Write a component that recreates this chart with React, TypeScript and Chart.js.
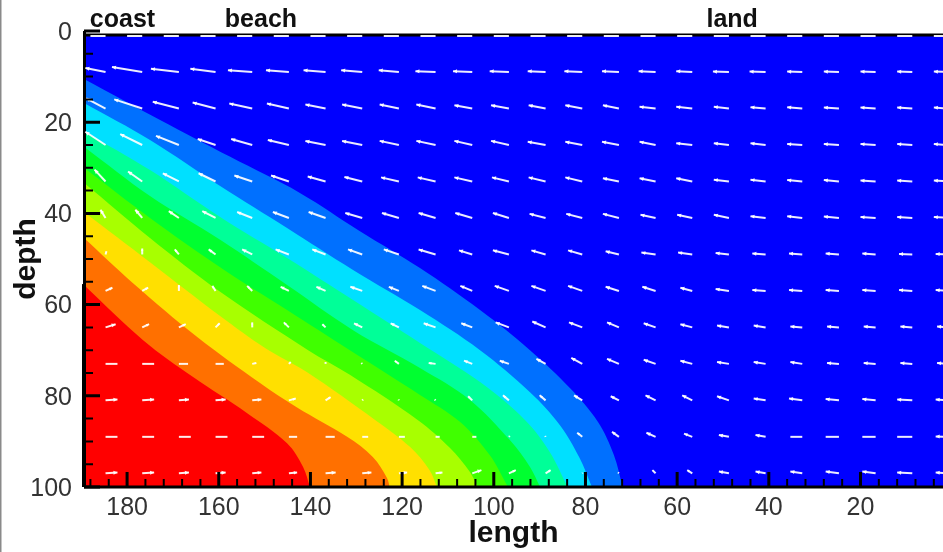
import React, { useEffect, useRef } from "react";
import { Chart, registerables } from "chart.js";

Chart.register(...registerables);

// Contour boundaries: length and depth values.
const levelBlueX = [189.4, 2];
const levelBlueY = [1, 1];
const level1X = [189.4, 172.8, 157.5, 142.3, 129.2, 116.1, 103.0, 92.1, 83.4, 77.3, 73.8, 71.9];
const level1Y = [10.5, 19.5, 27.6, 35.5, 43.9, 52.0, 61.2, 70.0, 78.3, 85.7, 93.0, 100];
const level2X = [189.4, 175.0, 159.7, 145.1, 130.7, 116.1, 103.0, 92.1, 85.6, 81.3, 78.6];
const level2Y = [15.8, 23.9, 34.0, 43.2, 52.4, 61.2, 70.0, 79.2, 86.4, 93.6, 100];
const level3X = [189.4, 175.0, 159.7, 145.1, 130.7, 116.1, 103.0, 93.2, 87.8, 83.9];
const level3Y = [22.1, 30.5, 40.8, 49.8, 59.0, 68.4, 77.0, 85.3, 92.3, 100];
const level4X = [189.4, 175.0, 159.7, 145.1, 130.7, 116.1, 105.2, 96.5, 92.1, 89.9];
const level4Y = [25.4, 36.2, 45.8, 55.7, 65.6, 73.9, 80.9, 89.7, 95.6, 100];
const level5X = [189.4, 175.0, 159.7, 145.1, 131.4, 116.1, 107.4, 100.9, 96.9];
const level5Y = [30.0, 41.0, 51.8, 61.2, 70.0, 79.8, 85.7, 93.0, 100];
const level6X = [189.4, 175.0, 159.7, 140.5, 131.4, 116.6, 109.6, 105.2, 103.5];
const level6Y = [33.3, 45.4, 57.2, 70.0, 75.4, 85.3, 91.4, 96.7, 100];
const level7X = [189.4, 175.0, 159.7, 149.9, 140.8, 125.9, 118.3, 114.0, 112.4];
const level7Y = [39.7, 50.7, 62.5, 69.5, 74.8, 85.3, 91.2, 96.3, 100];
const level8X = [189.4, 178.7, 164.7, 151.0, 143.0, 132.0, 126.4, 123.3, 122.7];
const level8Y = [45.4, 55.3, 67.1, 77.2, 82.5, 89.0, 93.4, 98.0, 100];
const level9X = [189.4, 176.5, 165.6, 153.8, 145.1, 141.6, 140.1];
const level9Y = [55.7, 67.8, 75.9, 83.8, 90.4, 95.6, 100];

const bandColors = ["#ff0000", "#ff7000", "#ffe000", "#a8ff00", "#40ff00", "#00ff30", "#00ff98", "#00e0ff", "#0070ff", "#0000ff"];
const bandXs = [level9X, level8X, level7X, level6X, level5X, level4X, level3X, level2X, level1X, levelBlueX];
const bandYs = [level9Y, level8Y, level7Y, level6Y, level5Y, level4Y, level3Y, level2Y, level1Y, levelBlueY];

// Velocity field: grid positions and components, in axis units.
const gridX = [184.7, 176.7, 168.7, 160.7, 152.7, 144.7, 136.7, 128.7, 120.7, 112.7, 104.7, 96.7, 88.7, 80.7, 72.7, 64.7, 56.7, 48.7, 40.7, 32.7, 24.7, 16.7, 8.7, 0.7];
const gridY = [1.1, 9, 17, 25, 33, 41, 49, 57, 65, 73, 81, 89, 97];

const u0 = [3.3, 3.3, 3.3, 3.3, 3.3, 3.3, 3.3, 3.3, 3.3, 3.3, 3.3, 3.3, 3.3, 3.3, 3.3, 3.3, 3.3, 3.3, 3.3, 3.3, 3.3, 3.3, 3.3, 3.3];
const v0 = [0, 0, 0, 0, 0, 0, 0, 0, 0, 0, 0, 0, 0, 0, 0, 0, 0, 0, 0, 0, 0, 0, 0, 0];
const u1 = [4.4, 6.6, 6.1, 5.5, 5.3, 5.0, 4.8, 4.6, 4.4, 4.4, 4.2, 4.2, 3.9, 3.9, 3.7, 3.7, 3.5, 3.5, 3.5, 3.3, 3.3, 3.3, 3.3, 3.3];
const v1 = [-0.9, -1.1, -0.7, -0.7, -0.4, -0.4, -0.4, -0.4, -0.4, -0.2, -0.2, -0.2, -0.2, -0.2, -0.2, -0.2, -0.2, -0.1, -0.1, -0.1, -0.1, -0.1, -0.1, -0.1];
const u2 = [4.2, 6.1, 5.7, 5.0, 5.0, 4.8, 4.4, 4.4, 4.2, 4.2, 3.9, 3.9, 3.7, 3.7, 3.5, 3.5, 3.5, 3.3, 3.3, 3.3, 3.3, 3.3, 3.3, 3.3];
const v2 = [-2.2, -2.0, -1.5, -1.3, -1.1, -1.1, -0.9, -0.9, -0.9, -0.9, -0.7, -0.7, -0.7, -0.7, -0.7, -0.4, -0.4, -0.4, -0.3, -0.3, -0.2, -0.2, -0.2, -0.2];
const u3 = [4.4, 4.8, 5.0, 3.9, 4.6, 4.6, 4.4, 4.4, 4.2, 4.2, 3.9, 3.9, 3.9, 3.7, 3.7, 3.5, 3.5, 3.3, 3.3, 3.3, 3.3, 3.3, 3.3, 3.3];
const v3 = [-2.9, -2.4, -2.0, -1.3, -1.3, -1.1, -0.9, -0.9, -0.9, -0.9, -0.9, -0.9, -0.7, -0.7, -0.7, -0.7, -0.4, -0.4, -0.4, -0.2, -0.2, -0.2, -0.2, -0.2];
const u4 = [2.4, 3.1, 3.5, 3.7, 3.9, 3.9, 3.9, 3.9, 3.9, 3.9, 3.9, 3.7, 3.7, 3.7, 3.5, 3.5, 3.5, 3.3, 3.3, 3.3, 3.3, 3.3, 3.3, 3.3];
const v4 = [-2.6, -2.2, -1.8, -1.8, -1.3, -1.3, -1.1, -1.0, -0.9, -0.9, -0.9, -0.9, -0.9, -0.9, -0.7, -0.7, -0.7, -0.4, -0.4, -0.3, -0.3, -0.2, -0.2, -0.2];
const u5 = [1.1, 1.5, 2.2, 2.9, 3.3, 3.5, 3.7, 3.7, 3.7, 3.7, 3.7, 3.5, 3.5, 3.5, 3.5, 3.3, 3.3, 3.3, 3.3, 3.3, 3.3, 3.3, 3.3, 3.3];
const v5 = [-1.8, -1.8, -1.5, -1.5, -1.3, -1.3, -1.3, -1.1, -1.1, -1.1, -1.1, -1.1, -0.9, -0.9, -0.9, -0.7, -0.7, -0.7, -0.4, -0.4, -0.3, -0.2, -0.2, -0.2];
const u6 = [-0.2, 0, 0.9, 1.5, 2.2, 2.9, 2.9, 3.1, 3.3, 3.7, 2.9, 3.5, 3.1, 3.1, 2.9, 3.1, 3.1, 2.9, 2.9, 2.9, 2.9, 2.9, 2.9, 2.9];
const v6 = [-0.7, -1.3, -1.1, -1.1, -1.1, -1.1, -1.1, -1.1, -1.1, -1.1, -0.9, -0.9, -0.9, -0.9, -0.7, -0.4, -0.4, -0.3, -0.2, -0.2, -0.2, -0.2, -0.1, -0.1];
const u7 = [-1.5, -1.3, 0, 0.7, 1.1, 1.8, 2.0, 2.6, 2.2, 2.9, 2.6, 3.1, 3.1, 3.1, 2.9, 2.9, 2.6, 2.9, 2.9, 2.9, 2.9, 2.9, 2.9, 2.9];
const v7 = [-0.7, -0.7, -1.3, -1.1, -1.1, -0.9, -0.9, -0.9, -0.9, -1.1, -1.1, -1.1, -1.1, -1.1, -0.9, -0.9, -0.7, -0.4, -0.2, -0.2, -0.2, -0.2, -0.2, -0.2];
const u8 = [-2.2, -1.5, -1.5, -0.9, 0, 1.1, 0.7, 1.8, 1.8, 2.6, 2.4, 2.9, 2.9, 2.9, 2.6, 2.6, 2.6, 2.6, 2.6, 2.6, 2.6, 2.6, 2.6, 2.6];
const v8 = [-0.7, -0.7, -0.7, -0.9, -1.1, -1.1, -0.7, -0.9, -0.9, -0.9, -0.9, -1.1, -1.3, -1.1, -1.1, -0.9, -0.7, -0.4, -0.4, -0.2, -0.2, -0.2, -0.2, -0.2];
const u9 = [-2.6, -2.6, -2.0, -1.8, -0.9, -0.4, 0, 0.2, 0.9, 1.5, 1.8, 2.0, 2.0, 2.4, 2.6, 2.6, 2.6, 2.6, 2.6, 2.6, 2.6, 2.6, 2.6, 2.6];
const v9 = [0, 0, 0, 0, -0.2, -0.4, -0.4, -0.2, -0.7, -0.2, -0.7, -0.7, -1.1, -1.3, -1.1, -0.9, -0.7, -0.4, -0.4, -0.4, -0.2, -0.2, -0.2, -0.2];
const u10 = [-2.6, -2.6, -2.2, -2.2, -2.0, -1.5, -1.1, -0.2, 0.1, 0.2, 0.9, 1.3, 1.3, 1.8, 1.8, 2.2, 2.2, 2.6, 2.6, 2.9, 2.9, 2.9, 3.3, 2.9];
const v10 = [-0.2, -0.2, -0.2, -0.2, -0.2, -0.4, -0.7, -0.2, -0.2, -0.2, -0.9, -1.1, -1.1, -1.1, -0.9, -1.1, -1.1, -0.9, -0.4, -0.4, -0.3, -0.3, -0.2, -0.2];
const u11 = [-2.6, -2.6, -2.6, -2.6, -2.6, -1.8, -2.0, -1.3, -1.3, -0.9, -0.9, -0.2, 0.1, 1.1, 1.5, 2.0, 1.8, 2.2, 2.2, 2.6, 2.9, 2.9, 3.3, 2.9];
const v11 = [0, 0, 0, 0, 0, 0, 0, 0, 0, 0, 0, -0.2, -0.2, -0.9, -1.1, -0.9, -0.7, -0.4, -0.4, 0, 0, 0, 0, -0.1];
const u12 = [-2.6, -2.6, -2.2, -2.2, -2.0, -1.8, -2.2, -2.0, -1.8, -1.5, -2.0, -1.5, -1.1, -0.1, 0.2, 0.7, 1.1, 2.2, 2.2, 2.6, 2.9, 2.9, 3.3, 2.9];
const v12 = [-0.2, -0.2, -0.2, -0.2, -0.2, -0.2, -0.2, -0.2, -0.2, -0.2, -0.7, -0.7, -0.7, -0.1, -0.2, -0.7, -0.7, -0.4, -0.4, -0.4, -0.4, -0.4, -0.2, -0.2];
const fieldU = [u0, u1, u2, u3, u4, u5, u6, u7, u8, u9, u10, u11, u12];
const fieldV = [v0, v1, v2, v3, v4, v5, v6, v7, v8, v9, v10, v11, v12];

// Axes
const xMajorTicks = [180, 160, 140, 120, 100, 80, 60, 40, 20];
const xMinorTicks = [188, 184, 176, 172, 168, 164, 156, 152, 148, 144, 136, 132, 128, 124, 116, 112, 108, 104, 96, 92, 88, 84, 76, 72, 68, 64, 56, 52, 48, 44, 36, 32, 28, 24, 16, 12, 8, 4];
const yMajorTicks = [100, 80, 60, 40, 20, 0];
const yMinorTicks = [5, 10, 15, 25, 30, 35, 45, 50, 55, 65, 70, 75, 85, 90, 95];
const regionNames = ["coast", "beach", "land"];
const regionX = [181.0, 150.8, 48.0];

const SANS = "'Liberation Sans', Arial, sans-serif";

const fieldPlugin = {
  id: "field",
  beforeDraw(chart: any) {
    const { ctx } = chart;
    ctx.save();
    ctx.fillStyle = "#8a8a8a";
    ctx.fillRect(0, 0, 1.5, chart.height);
    ctx.restore();
  },
  afterDatasetsDraw(chart: any) {
    const { ctx, chartArea } = chart;
    const xs = chart.scales.x;
    const ys = chart.scales.y;
    ctx.save();

    // frame
    ctx.strokeStyle = "#000";
    ctx.lineWidth = 3;
    ctx.beginPath();
    ctx.moveTo(chartArea.left, chartArea.bottom);
    ctx.lineTo(chartArea.right, chartArea.bottom);
    ctx.moveTo(chartArea.left + 0.5, chartArea.bottom);
    ctx.lineTo(chartArea.left + 0.5, chartArea.top);
    ctx.moveTo(chartArea.left, 35);
    ctx.lineTo(chartArea.right, 35);
    ctx.stroke();
    ctx.lineWidth = 4;
    ctx.beginPath();
    ctx.moveTo(chartArea.left, chartArea.bottom);
    ctx.lineTo(chartArea.left, ys.getPixelForValue(55.5));
    ctx.stroke();

    // vectors
    ctx.strokeStyle = "rgba(255,255,255,0.92)";
    ctx.fillStyle = "rgba(255,255,255,0.92)";
    ctx.lineWidth = 2;
    gridY.forEach((gy, r) => {
      gridX.forEach((gx, c) => {
        const u = fieldU[r][c];
        const v = fieldV[r][c];
        const x0 = xs.getPixelForValue(gx);
        const y0 = ys.getPixelForValue(gy);
        const x1 = xs.getPixelForValue(gx + u);
        const y1 = ys.getPixelForValue(gy + v);
        const len = Math.hypot(x1 - x0, y1 - y0);
        if (len < 0.5) return;
        ctx.beginPath();
        ctx.moveTo(x0, y0);
        ctx.lineTo(x1, y1);
        ctx.stroke();
        if (v === 0) return; // level vectors read as plain dashes in the reference
        const ux = (x1 - x0) / len;
        const uy = (y1 - y0) / len;
        const h = Math.min(4, len * 0.4);
        const w = Math.min(2, len * 0.2);
        ctx.beginPath();
        ctx.moveTo(x1, y1);
        ctx.lineTo(x1 - ux * h - uy * w, y1 - uy * h + ux * w);
        ctx.lineTo(x1 - ux * h + uy * w, y1 - uy * h - ux * w);
        ctx.closePath();
        ctx.fill();
      });
    });

    // inner ticks
    ctx.strokeStyle = "#000";
    ctx.lineWidth = 3;
    ctx.beginPath();
    xMajorTicks.forEach((v) => {
      const p = xs.getPixelForValue(v);
      ctx.moveTo(p, chartArea.bottom);
      ctx.lineTo(p, chartArea.bottom - 15);
    });
    yMajorTicks.forEach((v) => {
      const p = ys.getPixelForValue(v);
      ctx.moveTo(chartArea.left, p);
      ctx.lineTo(chartArea.left + 16, p);
    });
    ctx.stroke();
    ctx.lineWidth = 2;
    ctx.beginPath();
    xMinorTicks.forEach((v) => {
      const p = xs.getPixelForValue(v);
      ctx.moveTo(p, chartArea.bottom);
      ctx.lineTo(p, chartArea.bottom - 8);
    });
    yMinorTicks.forEach((v) => {
      const p = ys.getPixelForValue(v);
      ctx.moveTo(chartArea.left, p);
      ctx.lineTo(chartArea.left + 9, p);
    });
    ctx.stroke();

    // region names
    ctx.fillStyle = "#111";
    ctx.font = `bold 25px ${SANS}`;
    ctx.textAlign = "center";
    ctx.textBaseline = "alphabetic";
    regionNames.forEach((name, i) => {
      ctx.fillText(name, xs.getPixelForValue(regionX[i]), 27);
    });
    ctx.restore();
  },
};

export default function App() {
  const ref = useRef<HTMLCanvasElement | null>(null);
  useEffect(() => {
    document.body.style.margin = "0";
    document.body.style.overflow = "hidden";
    const chart = new Chart(ref.current as HTMLCanvasElement, {
      type: "line",
      data: {
        datasets: bandColors.map((color, i) => ({
          label: "level " + i,
          data: bandXs[i].map((x, j) => ({ x, y: bandYs[i][j] })),
          borderWidth: 0,
          pointRadius: 0,
          tension: 0.35,
          fill: { value: 100 },
          backgroundColor: color,
          borderColor: color,
        })),
      },
      options: {
        responsive: false,
        animation: false,
        layout: { padding: { top: 31, right: 0, left: 0, bottom: 0 } },
        plugins: { legend: { display: false }, tooltip: { enabled: false } },
        scales: {
          x: {
            type: "linear",
            reverse: true,
            min: 2,
            max: 189.4,
            grid: { display: false, drawTicks: false },
            border: { display: false },
            afterBuildTicks: (s: any) => {
              s.ticks = xMajorTicks.map((value) => ({ value }));
            },
            afterFit: (s: any) => {
              s.height = 65;
            },
            ticks: {
              maxRotation: 0,
              autoSkip: false,
              padding: 6,
              color: "#333",
              font: { family: SANS, size: 25 },
            },
            title: {
              display: true,
              text: "length",
              color: "#111",
              font: { family: SANS, size: 30, weight: "bold" },
              padding: { top: 0, bottom: 0 },
            },
          },
          y: {
            type: "linear",
            reverse: true,
            min: 0,
            max: 100,
            grid: { display: false, drawTicks: false },
            border: { display: false },
            afterBuildTicks: (s: any) => {
              s.ticks = yMajorTicks.map((value) => ({ value }));
            },
            afterFit: (s: any) => {
              s.width = 84;
            },
            ticks: {
              autoSkip: false,
              padding: 12,
              labelOffset: 2,
              color: "#333",
              font: { family: SANS, size: 25 },
            },
            title: {
              display: true,
              text: "depth",
              color: "#111",
              font: { family: SANS, size: 30, weight: "bold" },
              padding: { top: 9, bottom: 0 },
            },
          },
        },
      },
      plugins: [fieldPlugin],
    } as any);
    return () => chart.destroy();
  }, []);
  return (
    <div style={{ position: "absolute", left: 0, top: 0, width: 943, height: 552, background: "#fff" }}>
      <canvas ref={ref} width={943} height={552} style={{ display: "block" }} />
    </div>
  );
}
